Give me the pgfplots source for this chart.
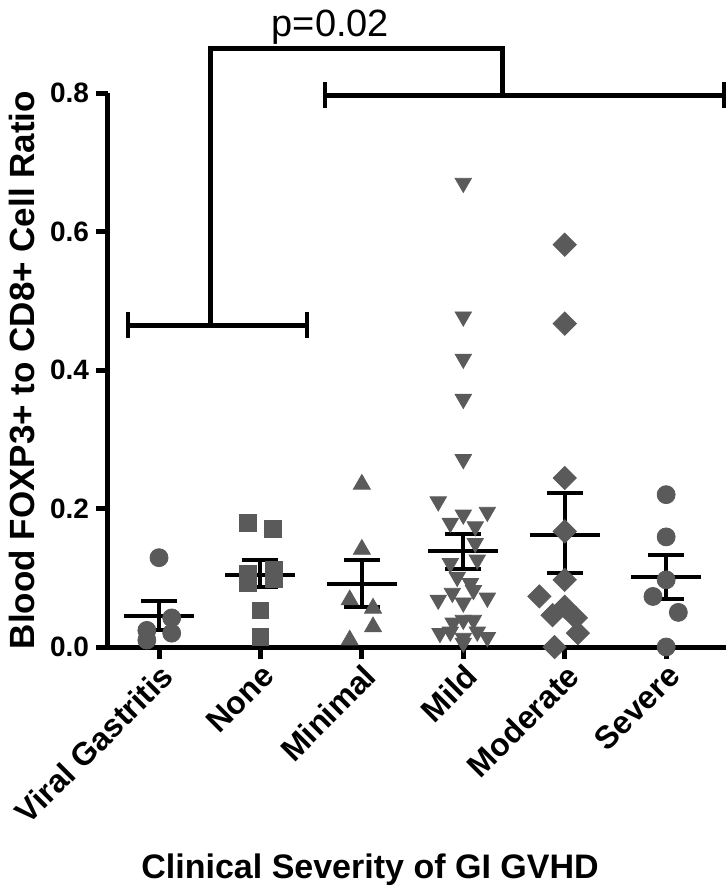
\documentclass[border=0pt]{standalone}
\usepackage{pgfplots}
\pgfplotsset{compat=1.18}
\usepackage{fontspec}
\setmainfont{Liberation Sans}
\definecolor{markgray}{HTML}{5A5A5A}
\begin{document}
\begin{tikzpicture}[x=0.5pt,y=0.5pt]
\path[use as bounding box] (-108,-249) rectangle (618,647);
\begin{axis}[
  at={(0,0)}, anchor=south west, scale only axis,
  width=309pt, height=277pt,
  xmin=-0.503, xmax=5.59, ymin=0, ymax=0.8,
  clip=false,
  axis lines=left,
  axis line style={line width=2.5pt, -},
  tick align=outside,
  major tick length=6pt,
  tick style={line width=2.5pt, black},
  xtick={0,1,2,3,4,5},
  xticklabels={Viral Gastritis, None, Minimal, Mild, Moderate, Severe},
  x tick label style={rotate=45, anchor=north east, font=\bfseries\fontsize{16}{16}\selectfont, inner sep=1pt},
  ytick={0,0.2,0.4,0.6,0.8},
  yticklabel style={/pgf/number format/fixed, /pgf/number format/fixed zerofill, /pgf/number format/precision=1, /pgf/number format/assume math mode=true, font=\bfseries\fontsize{14}{14}\selectfont},
  ylabel={Blood FOXP3+ to CD8+ Cell Ratio},
  ylabel style={at={(axis description cs:-0.139,0.5)}, anchor=center, rotate=0, font=\bfseries\fontsize{17.5}{17.5}\selectfont},
  xlabel={Clinical Severity of GI GVHD},
  xlabel style={at={(axis description cs:0.424,-0.4025)}, anchor=center, font=\bfseries\fontsize{17}{17}\selectfont},
]
% Viral Gastritis
\addplot[only marks, mark=*, mark size=4.5pt, mark options={draw=markgray, fill=markgray}] coordinates {
 (0,0.129) (0.125,0.042) (0.125,0.020) (-0.12,0.024) (-0.12,0.010)
};
% None
\addplot[only marks, mark=square*, mark size=4.2pt, mark options={draw=markgray, fill=markgray}] coordinates {
 (0.88,0.179) (1.12,0.171) (1.13,0.112) (1.13,0.098) (0.88,0.106) (0.88,0.092) (1,0.053) (1,0.015)
};
% Minimal
\addplot[only marks, mark=triangle*, mark size=4.9pt, mark options={draw=markgray, fill=markgray}] coordinates {
 (2,0.235) (2,0.141) (1.88,0.068) (2.11,0.056) (2.11,0.029) (1.88,0.010)
};
% Mild
\addplot[only marks, mark=triangle*, mark size=4.7pt, mark options={draw=markgray, fill=markgray, rotate=180}] coordinates {
 (3,0.670) (3,0.477) (3,0.416) (3,0.358) (3,0.271)
 (2.753,0.210) (3.237,0.195) (3,0.191) (2.872,0.179) (3.118,0.174) (3.118,0.150)
 (2.872,0.121) (3.138,0.126) (2.94,0.101) (3.07,0.092) (2.753,0.068) (2.892,0.078)
 (3,0.064) (3.237,0.071) (3.10,0.082) (3,0.039) (3.10,0.039) (2.90,0.035)
 (2.77,0.020) (3,0.013) (3.237,0.014) (2.872,0.022) (3.138,0.022) (3,0.006)
};
% Moderate
\addplot[only marks, mark=square*, mark size=4.1pt, mark options={draw=markgray, fill=markgray, rotate=45}] coordinates {
 (4,0.581) (4,0.467) (4,0.244) (4,0.167) (4,0.097) (3.75,0.073) (4,0.058)
 (3.88,0.046) (4.11,0.042) (4.13,0.020) (3.9,0.000)
};
% Severe
\addplot[only marks, mark=*, mark size=4.5pt, mark options={draw=markgray, fill=markgray}] coordinates {
 (5,0.220) (5,0.159) (5,0.097) (4.87,0.073) (5.12,0.050) (5,0.000)
};
% mean and SEM
\addplot[black, line width=2pt, unbounded coords=jump, mark=none] coordinates {
 (-0.345,0.045) (0.345,0.045) (0,nan) (0,0.025) (0,0.066) (0,nan) (-0.178,0.066) (0.178,0.066) (0,nan) (-0.178,0.025) (0.178,0.025) (0,nan)
 (0.655,0.104) (1.345,0.104) (0,nan) (1,0.0865) (1,0.125) (0,nan) (0.822,0.125) (1.178,0.125) (0,nan) (0.822,0.0865) (1.178,0.0865) (0,nan)
 (1.655,0.091) (2.345,0.091) (0,nan) (2,0.0575) (2,0.125) (0,nan) (1.822,0.125) (2.178,0.125) (0,nan) (1.822,0.0575) (2.178,0.0575) (0,nan)
 (2.655,0.139) (3.345,0.139) (0,nan) (3,0.113) (3,0.163) (0,nan) (2.822,0.163) (3.178,0.163) (0,nan) (2.822,0.113) (3.178,0.113) (0,nan)
 (3.655,0.162) (4.345,0.162) (0,nan) (4,0.107) (4,0.222) (0,nan) (3.822,0.222) (4.178,0.222) (0,nan) (3.822,0.107) (4.178,0.107) (0,nan)
 (4.655,0.101) (5.345,0.101) (0,nan) (5,0.069) (5,0.133) (0,nan) (4.822,0.133) (5.178,0.133) (0,nan) (4.822,0.069) (5.178,0.069)
};
% significance brackets
\draw[line width=2.5pt, line join=miter] (axis cs:0.503,0.465) -- (axis cs:0.503,0.865) -- (axis cs:3.39,0.865) -- (axis cs:3.39,0.797);
\draw[line width=2.5pt] (axis cs:-0.306,0.465) -- (axis cs:1.46,0.465);
\draw[line width=2pt] (axis cs:-0.306,0.446) -- (axis cs:-0.306,0.484);
\draw[line width=2pt] (axis cs:1.46,0.446) -- (axis cs:1.46,0.484);
\draw[line width=2.5pt] (axis cs:1.64,0.797) -- (axis cs:5.57,0.797);
\draw[line width=2pt] (axis cs:1.64,0.778) -- (axis cs:1.64,0.816);
\draw[line width=2pt] (axis cs:5.57,0.778) -- (axis cs:5.57,0.816);
\node[anchor=base, font=\fontsize{19}{19}\selectfont, inner sep=0pt] at (axis cs:1.69,0.882) {p=0.02};
\end{axis}
\end{tikzpicture}
\end{document}
